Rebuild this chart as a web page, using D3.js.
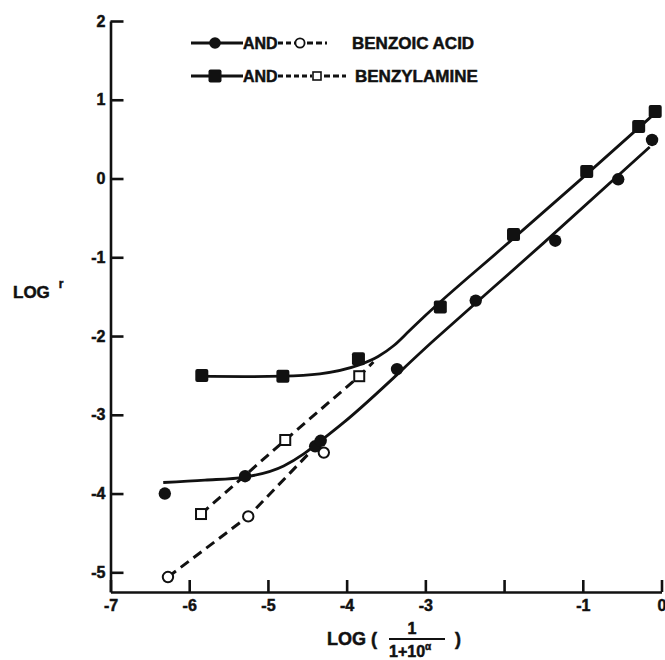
<!DOCTYPE html>
<html>
<head>
<meta charset="utf-8">
<script src="https://cdn.jsdelivr.net/npm/d3@7"></script>
<style>
  body { margin: 0; background: #fff; }
  text { font-family: "Liberation Sans", Arial, sans-serif; font-weight: bold; fill: #111;
         stroke: #111; stroke-width: 0.5px; }
</style>
</head>
<body>
<svg></svg>
<script>
// measured points (x = log(1/(1+10^a)), y = log r)
var andBenzoicX = [-6.31, -5.29, -4.40, -4.33, -3.36, -2.36, -1.35, -0.55, -0.12];
var andBenzoicY = [-4.00, -3.78, -3.40, -3.33, -2.42, -1.55, -0.79, -0.01, 0.49];
var benzoicX = [-6.27, -5.25, -4.29];
var benzoicY = [-5.06, -4.29, -3.48];
var andBenzylX = [-5.84, -4.81, -3.85, -2.81, -1.88, -0.95, -0.29, -0.08];
var andBenzylY = [-2.50, -2.51, -2.29, -1.63, -0.71, 0.09, 0.66, 0.85];
var benzylX = [-5.85, -4.78, -3.84];
var benzylY = [-4.26, -3.32, -2.51];

// hand drawn fitted curves (solid) and connecting lines (dashed)
var fitBenzoicX = [-6.33, -5.8, -5.29, -4.8, -4.55, -4.38, -4.04, -2.88, -1.5, -0.15];
var fitBenzoicY = [-3.86, -3.83, -3.79, -3.65, -3.50, -3.37, -3.10, -2.045, -0.82, 0.40];
var fitBenzylX = [-5.84, -5.3, -4.81, -4.34, -3.85, -3.6, -3.4, -3.2, -3.0, -2.0, -1.0, -0.08];
var fitBenzylY = [-2.51, -2.515, -2.51, -2.48, -2.37, -2.26, -2.12, -1.93, -1.74, -0.864, 0.011, 0.83];
var dashBenzoicX = [-6.27, -5.25, -4.46];
var dashBenzoicY = [-5.06, -4.29, -3.47];
var dashBenzylX = [-5.85, -4.78, -3.84, -3.66];
var dashBenzylY = [-4.26, -3.32, -2.51, -2.33];

var xTicks = [-7, -6, -5, -4, -3, -2, -1, 0];
var xTickLabels = ["-7", "-6", "-5", "-4", "-3", "", "-1", "0"];
var yTicks = [-5, -4, -3, -2, -1, 0, 1, 2];
var yTickLabels = ["-5", "-4", "-3", "-2", "-1", "0", "1", "2"];

var svgWidth = 665;
var svgHeight = 660;
var ink = "#111";

var svg = d3.select("svg")
    .attr("width", svgWidth)
    .attr("height", svgHeight);

var x = d3.scaleLinear().domain([-7, 0]).range([110.5, 661.5]);
var y = d3.scaleLinear().domain([-5.25, 2]).range([592, 21]);

function pairs(xs, ys) {
  return xs.map(function (d, i) { return [d, ys[i]]; });
}

// axes
var yAxis = svg.append("g")
    .attr("transform", "translate(" + x(-7) + ",0)")
    .call(d3.axisLeft(y)
      .tickValues(yTicks)
      .tickSize(-13)
      .tickSizeOuter(0)
      .tickPadding(5)
      .tickFormat(function (d, i) { return yTickLabels[i]; }));

var xAxis = svg.append("g")
    .attr("transform", "translate(0," + y(-5.25) + ")")
    .call(d3.axisBottom(x)
      .tickValues(xTicks)
      .tickSize(-12)
      .tickSizeOuter(0)
      .tickPadding(8)
      .tickFormat(function (d, i) { return xTickLabels[i]; }));

[xAxis, yAxis].forEach(function (g) {
  g.attr("font-family", null).attr("font-size", null);
  g.selectAll("path, line").attr("stroke", ink).attr("stroke-width", 2.6);
  g.selectAll("text").style("font-size", "16px").attr("fill", ink);
});

// curves
var line = d3.line()
    .x(function (d) { return x(d[0]); })
    .y(function (d) { return y(d[1]); });

svg.append("path")
    .attr("d", line.curve(d3.curveMonotoneX)(pairs(fitBenzoicX, fitBenzoicY)))
    .attr("fill", "none").attr("stroke", ink).attr("stroke-width", 2.8);

svg.append("path")
    .attr("d", line.curve(d3.curveMonotoneX)(pairs(fitBenzylX, fitBenzylY)))
    .attr("fill", "none").attr("stroke", ink).attr("stroke-width", 2.8);

[[dashBenzoicX, dashBenzoicY], [dashBenzylX, dashBenzylY]].forEach(function (s) {
  svg.append("path")
      .attr("d", line.curve(d3.curveLinear)(pairs(s[0], s[1])))
      .attr("fill", "none").attr("stroke", ink)
      .attr("stroke-width", 3)
      .attr("stroke-dasharray", "10,6");
});

// markers
svg.selectAll(".fc")
    .data(pairs(andBenzoicX, andBenzoicY))
    .enter().append("circle")
    .attr("cx", function (d) { return x(d[0]); })
    .attr("cy", function (d) { return y(d[1]); })
    .attr("r", 6.2)
    .attr("fill", ink);

svg.selectAll(".oc")
    .data(pairs(benzoicX, benzoicY))
    .enter().append("circle")
    .attr("cx", function (d) { return x(d[0]); })
    .attr("cy", function (d) { return y(d[1]); })
    .attr("r", 5.2)
    .attr("fill", "#fff").attr("stroke", ink).attr("stroke-width", 2);

svg.selectAll(".fs")
    .data(pairs(andBenzylX, andBenzylY))
    .enter().append("rect")
    .attr("x", function (d) { return x(d[0]) - 6.5; })
    .attr("y", function (d) { return y(d[1]) - 6.5; })
    .attr("width", 13).attr("height", 13).attr("rx", 2)
    .attr("fill", ink);

svg.selectAll(".os")
    .data(pairs(benzylX, benzylY))
    .enter().append("rect")
    .attr("x", function (d) { return x(d[0]) - 5; })
    .attr("y", function (d) { return y(d[1]) - 5; })
    .attr("width", 10).attr("height", 10)
    .attr("fill", "#fff").attr("stroke", ink).attr("stroke-width", 2);

// legend
var legend = svg.append("g");
[43, 76].forEach(function (ly, i) {
  legend.append("line").attr("x1", 191).attr("x2", 243).attr("y1", ly).attr("y2", ly)
      .attr("stroke", ink).attr("stroke-width", 2.8);
  legend.append("text").attr("x", 243).attr("y", ly + 6).style("font-size", "16px").text("AND");
  var symX = i === 0 ? 300 : 317;
  var dashEnd2 = i === 0 ? 327 : 346;
  legend.append("line").attr("x1", 278).attr("x2", symX - 5).attr("y1", ly).attr("y2", ly)
      .attr("stroke", ink).attr("stroke-width", 2.8).attr("stroke-dasharray", "5,3");
  legend.append("line").attr("x1", symX + 7).attr("x2", dashEnd2).attr("y1", ly).attr("y2", ly)
      .attr("stroke", ink).attr("stroke-width", 2.8).attr("stroke-dasharray", "6,3");
  if (i === 0) {
    legend.append("circle").attr("cx", 215).attr("cy", ly).attr("r", 5.8).attr("fill", ink);
    legend.append("circle").attr("cx", symX).attr("cy", ly).attr("r", 4.6)
        .attr("fill", "#fff").attr("stroke", ink).attr("stroke-width", 1.8);
  } else {
    legend.append("rect").attr("x", 208.5).attr("y", ly - 6.5).attr("width", 13).attr("height", 13)
        .attr("rx", 2).attr("fill", ink);
    legend.append("rect").attr("x", symX - 4).attr("y", ly - 4).attr("width", 8).attr("height", 8)
        .attr("fill", "#fff").attr("stroke", ink).attr("stroke-width", 1.6);
  }
  legend.append("text").attr("x", i === 0 ? 352 : 355).attr("y", ly + 6)
      .style("font-size", "17px")
      .text(i === 0 ? "BENZOIC ACID" : "BENZYLAMINE");
});

// axis titles
var yTitle = svg.append("text").attr("x", 13).attr("y", 298).style("font-size", "17px");
yTitle.append("tspan").text("LOG");
yTitle.append("tspan").attr("dx", 9).attr("dy", -10).style("font-size", "12px").text("r");

svg.append("text").attr("x", 327).attr("y", 645).style("font-size", "18px").text("LOG (");
svg.append("text").attr("x", 412).attr("y", 634).attr("text-anchor", "middle")
    .style("font-size", "16px").text("1");
svg.append("line").attr("x1", 389).attr("x2", 445).attr("y1", 639).attr("y2", 639)
    .attr("stroke", ink).attr("stroke-width", 2.2);
var den = svg.append("text").attr("x", 389).attr("y", 657).style("font-size", "16px");
den.append("tspan").text("1+10");
den.append("tspan").attr("dy", -7).style("font-size", "10px").text("α");
svg.append("text").attr("x", 455).attr("y", 645).style("font-size", "18px").text(")");
</script>
</body>
</html>
